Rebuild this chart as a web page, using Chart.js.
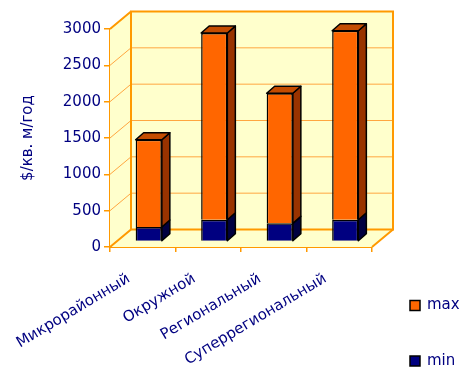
<!doctype html>
<html>

<head>
    <title>Ставки аренды</title>
    <script src="https://cdn.jsdelivr.net/npm/chart.js"></script>
    <style>
        body { margin: 0; background: #fff; }
        #wrap { width: 472px; height: 367px; }
    </style>
</head>

<body>
    <div id="wrap">
        <canvas id="arenda"></canvas>
    </div>

    <script>
        // данные
        const categorias = ['Микрорайонный', 'Окружной', 'Региональный', 'Суперрегиональный'];
        const valoresMin = [200, 300, 250, 300];
        const valoresMax = [1200, 2570, 1790, 2600];
        const ticksY = [0, 500, 1000, 1500, 2000, 2500, 3000];

        const corTexto = '#000080';
        const corLaranja = '#FF9900';
        const fonte = 'DejaVu Sans';

        // profundidade da caixa e das barras
        const caixa = { dx: 21, dy: -17.5 };
        const barra = { dx: 8, dy: -7 };
        const deslocBarra = { dx: 6, dy: -5.5 };

        const ladoEscuro = ['#000040', '#993300'];
        const topoCor = '#C44C00';

        const paredes = {
            id: 'paredes',
            beforeDatasetsDraw(chart) {
                const { ctx, chartArea: { top, bottom, left, right }, scales: { y } } = chart;
                ctx.save();
                ctx.fillStyle = '#FFFFCC';
                // parede de fundo
                ctx.fillRect(left + caixa.dx, top + caixa.dy, right - left, bottom - top);
                // parede lateral
                ctx.beginPath();
                ctx.moveTo(left, top);
                ctx.lineTo(left + caixa.dx, top + caixa.dy);
                ctx.lineTo(left + caixa.dx, bottom + caixa.dy);
                ctx.lineTo(left, bottom);
                ctx.closePath();
                ctx.fill();
                // chão
                ctx.beginPath();
                ctx.moveTo(left, bottom);
                ctx.lineTo(left + caixa.dx, bottom + caixa.dy);
                ctx.lineTo(right + caixa.dx, bottom + caixa.dy);
                ctx.lineTo(right, bottom);
                ctx.closePath();
                ctx.fill();

                // linhas de grade
                ctx.strokeStyle = '#FFA640';
                ctx.lineWidth = 1;
                ticksY.forEach(v => {
                    const py = y.getPixelForValue(v);
                    ctx.beginPath();
                    ctx.moveTo(left, py);
                    ctx.lineTo(left + caixa.dx, py + caixa.dy);
                    ctx.lineTo(right + caixa.dx, py + caixa.dy);
                    ctx.stroke();
                });

                // bordas
                ctx.strokeStyle = corLaranja;
                ctx.lineWidth = 2;
                ctx.strokeRect(left + caixa.dx, top + caixa.dy, right - left, bottom - top);
                ctx.beginPath();
                ctx.moveTo(left, top);
                ctx.lineTo(left + caixa.dx, top + caixa.dy);
                ctx.moveTo(left, bottom);
                ctx.lineTo(left + caixa.dx, bottom + caixa.dy);
                ctx.moveTo(right, bottom);
                ctx.lineTo(right + caixa.dx, bottom + caixa.dy);
                ctx.stroke();

                // barras um pouco para dentro da caixa
                ctx.restore();
                ctx.save();
                ctx.translate(deslocBarra.dx, deslocBarra.dy);
            },
            afterDatasetsDraw(chart) {
                const { ctx } = chart;
                ctx.strokeStyle = '#000';
                ctx.lineWidth = 1.5;
                ctx.lineJoin = 'round';
                chart.data.datasets.forEach((ds, i) => {
                    const meta = chart.getDatasetMeta(i);
                    meta.data.forEach(el => {
                        const l = el.x - el.width / 2;
                        const r = el.x + el.width / 2;
                        const t = Math.min(el.y, el.base);
                        const b = Math.max(el.y, el.base);
                        // lado
                        ctx.fillStyle = ladoEscuro[i];
                        ctx.beginPath();
                        ctx.moveTo(r, t);
                        ctx.lineTo(r + barra.dx, t + barra.dy);
                        ctx.lineTo(r + barra.dx, b + barra.dy);
                        ctx.lineTo(r, b);
                        ctx.closePath();
                        ctx.fill();
                        ctx.stroke();
                        // topo
                        if (i === chart.data.datasets.length - 1) {
                            ctx.fillStyle = topoCor;
                            ctx.beginPath();
                            ctx.moveTo(l, t);
                            ctx.lineTo(l + barra.dx, t + barra.dy);
                            ctx.lineTo(r + barra.dx, t + barra.dy);
                            ctx.lineTo(r, t);
                            ctx.closePath();
                            ctx.fill();
                            ctx.stroke();
                        }
                    });
                });
                ctx.restore();
            },
            afterDraw(chart) {
                // legenda: max em cima, min embaixo
                const { ctx } = chart;
                const itens = [
                    { texto: 'max', cor: chart.data.datasets[1].backgroundColor, y: 305.5 },
                    { texto: 'min', cor: chart.data.datasets[0].backgroundColor, y: 361 }
                ];
                ctx.save();
                ctx.font = '15px "' + fonte + '"';
                ctx.textBaseline = 'middle';
                itens.forEach(it => {
                    ctx.fillStyle = it.cor;
                    ctx.fillRect(410, it.y - 5, 10, 10);
                    ctx.strokeStyle = '#000';
                    ctx.lineWidth = 1.5;
                    ctx.strokeRect(410, it.y - 5, 10, 10);
                    ctx.fillStyle = corTexto;
                    ctx.fillText(it.texto, 427, it.y);
                });
                ctx.restore();
            }
        };

        var grafico = new Chart(document.getElementById('arenda').getContext('2d'), {
            type: 'bar',
            data: {
                labels: categorias,
                datasets: [{
                    label: 'min',
                    data: valoresMin,
                    backgroundColor: '#000080',
                    borderColor: '#000',
                    borderWidth: 1.5
                }, {
                    label: 'max',
                    data: valoresMax,
                    backgroundColor: '#FF6600',
                    borderColor: '#000',
                    borderWidth: 1.5
                }]
            },
            options: {
                responsive: true,
                maintainAspectRatio: false,
                animation: false,
                layout: { padding: { top: 29, right: 100, left: 0, bottom: 0 } },
                datasets: { bar: { categoryPercentage: 1, barPercentage: 0.4 } },
                plugins: {
                    legend: { display: false },
                    tooltip: { enabled: false }
                },
                scales: {
                    x: {
                        stacked: true,
                        afterFit(s) { s.height = 120; },
                        border: { color: corLaranja, width: 2 },
                        grid: { drawOnChartArea: false, color: corLaranja, tickLength: 5, lineWidth: 1.5 },
                        ticks: {
                            minRotation: 31,
                            maxRotation: 31,
                            labelOffset: -14,
                            padding: 18,
                            color: corTexto,
                            font: { family: fonte, size: 15 }
                        }
                    },
                    y: {
                        stacked: true,
                        min: 0,
                        max: 3000,
                        afterFit(s) { s.width = 110; },
                        border: { color: corLaranja, width: 2 },
                        grid: { drawOnChartArea: false, color: corLaranja, tickLength: 6, lineWidth: 1.5 },
                        ticks: {
                            stepSize: 500,
                            padding: 3,
                            color: corTexto,
                            font: { family: fonte, size: 15 },
                            callback: v => String(v)
                        },
                        title: {
                            display: true,
                            text: '$/кв. м/год',
                            color: corTexto,
                            padding: { top: 19 },
                            font: { family: fonte, size: 15 }
                        }
                    }
                }
            },
            plugins: [paredes]
        });
    </script>
</body>

</html>
